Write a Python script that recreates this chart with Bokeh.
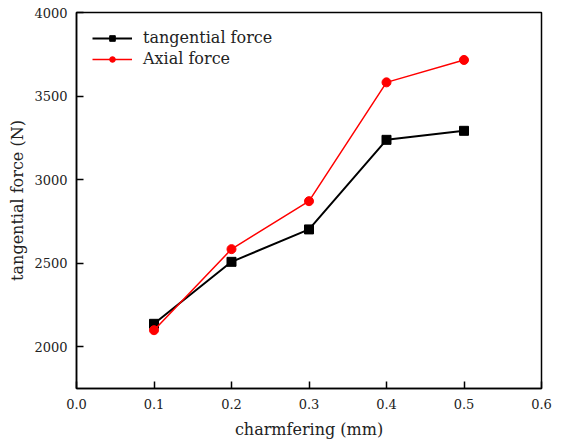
from bokeh.plotting import figure
from bokeh.models import Range1d, FixedTicker, Legend, LegendItem
from bokeh.embed import file_html
from bokeh.resources import INLINE

chamfer = [0.1, 0.2, 0.3, 0.4, 0.5]
tangential = [2137, 2508, 2702, 3238, 3292]
axial = [2099, 2584, 2871, 3582, 3716]
x_ticks = [0.0, 0.1, 0.2, 0.3, 0.4, 0.5, 0.6]
y_ticks = [2000, 2500, 3000, 3500, 4000]

FONT = "DejaVu Serif"
TXT = "#222222"

p = figure(width=563, height=441, output_backend="svg", toolbar_location=None,
           x_range=Range1d(0.0, 0.6), y_range=Range1d(1750, 4000),
           min_border_left=76, min_border_right=22, min_border_top=12, min_border_bottom=53)
p.grid.visible = False
p.outline_line_color = "black"
p.outline_line_width = 1.5

for ax in (p.xaxis[0], p.yaxis[0]):
    ax.axis_line_width = 1.5
    ax.major_tick_in = 7
    ax.major_tick_out = 0
    ax.major_tick_line_width = 1.5
    ax.minor_tick_line_color = None
    ax.major_label_text_font = FONT
    ax.major_label_text_font_size = "13px"
    ax.major_label_text_color = TXT
    ax.axis_label_text_font = FONT
    ax.axis_label_text_font_size = "16px"
    ax.axis_label_text_font_style = "normal"
    ax.axis_label_text_color = TXT

p.xaxis.ticker = FixedTicker(ticks=x_ticks)
p.yaxis.ticker = FixedTicker(ticks=y_ticks)
p.xaxis.major_label_overrides = {t: f"{t:.1f}" for t in x_ticks}
p.xaxis.axis_label = "charmfering (mm)"
p.yaxis.axis_label = "tangential force (N)"
p.xaxis.major_label_standoff = 10
p.yaxis.major_label_standoff = 9
p.xaxis.axis_label_standoff = 8
p.yaxis.axis_label_standoff = 4

l1 = p.line(chamfer, tangential, line_color="black", line_width=2)
m1 = p.scatter(chamfer, tangential, marker="square", size=9, color="black")
l2 = p.line(chamfer, axial, line_color="#ff0000", line_width=1.5)
m2 = p.scatter(chamfer, axial, marker="circle", size=9, color="#ff0000")

legend = Legend(items=[LegendItem(label="tangential force", renderers=[l1, m1]),
                       LegendItem(label="Axial force", renderers=[l2, m2])],
                location="top_left", border_line_color=None, background_fill_alpha=0,
                label_text_font=FONT, label_text_font_size="16px", label_text_color=TXT,
                glyph_width=40, glyph_height=14, label_height=14, spacing=2,
                label_standoff=11, margin=16, padding=4)
p.add_layout(legend)

open("out.html", "w").write(file_html(p, INLINE))
